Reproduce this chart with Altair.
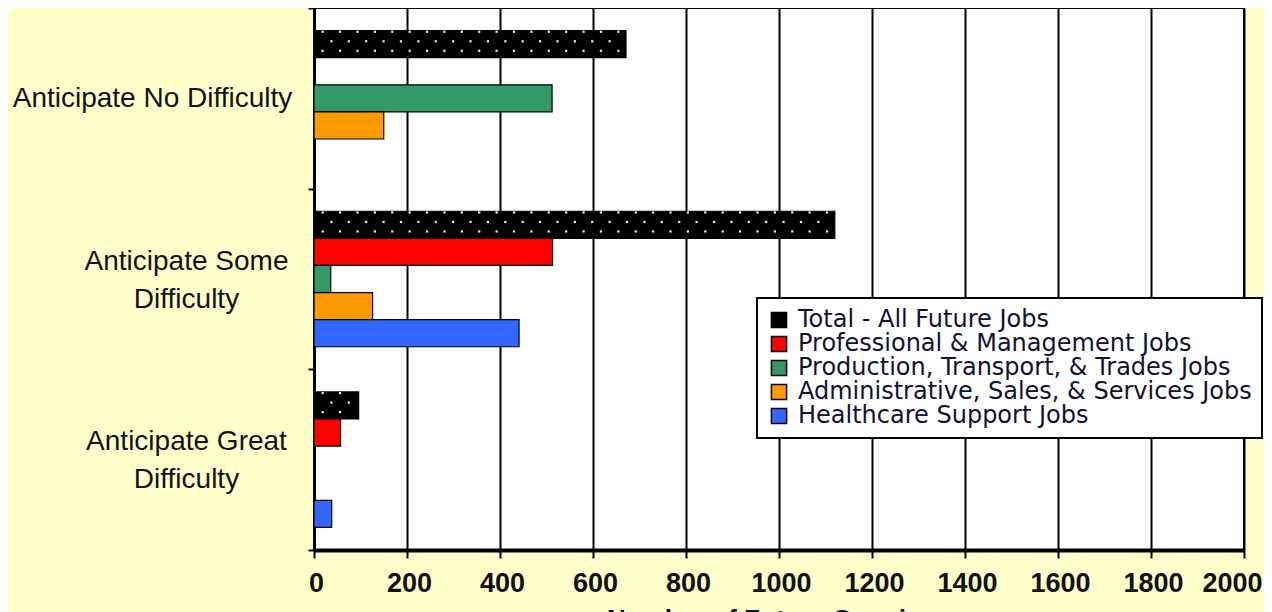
import altair as alt
import pandas as pd

categories = ["Anticipate No Difficulty", "Anticipate Some Difficulty", "Anticipate Great Difficulty"]
series = [
    "Total - All Future Jobs",
    "Professional & Management Jobs",
    "Production, Transport, & Trades Jobs",
    "Administrative, Sales, & Services Jobs",
    "Healthcare Support Jobs",
]
colors = ["#000000", "#FF0000", "#339966", "#FF9900", "#3366FF"]

total_jobs = [671, 1120, 96]
professional_jobs = [0, 513, 57]
production_jobs = [512, 36, 0]
administrative_jobs = [150, 126, 0]
healthcare_jobs = [0, 441, 38]

x_ticks = [0, 200, 400, 600, 800, 1000, 1200, 1400, 1600, 1800, 2000]

values = [total_jobs, professional_jobs, production_jobs, administrative_jobs, healthcare_jobs]
rows = []
for s, vals in zip(series, values):
    for c, v in zip(categories, vals):
        if v > 0:
            rows.append({"cat": c, "series": s, "value": v})
df = pd.DataFrame(rows)

# white dot texture for the "Total" bars (3 staggered rows)
sub_domain = ["pa", "pb"] + [f"s{i}" for i in range(15)] + ["pc", "pd"]
dot_rows = []
step_units = 37.4
for c, v in zip(categories, total_jobs):
    for r in range(3):
        start = 18.7 + (18.7 if r == 1 else 0)
        k = 0
        while start + k * step_units < v - 6:
            dot_rows.append({"cat": c, "sub": f"s{r}", "x": start + k * step_units})
            k += 1
dots = pd.DataFrame(dot_rows)

label_expr = (
    "datum.value == 'Anticipate Some Difficulty' ? ['Anticipate Some', 'Difficulty'] : "
    "datum.value == 'Anticipate Great Difficulty' ? ['Anticipate Great', 'Difficulty'] : datum.value"
)

single = "datum.value == 'Anticipate No Difficulty'"
last_tick = "datum.value == 2000"

y_enc = alt.Y(
    "cat:N",
    sort=categories,
    scale=alt.Scale(domain=categories, paddingInner=0, paddingOuter=0),
    axis=alt.Axis(
        title=None,
        labelExpr=label_expr,
        labelFont="Liberation Sans",
        labelFontSize=28,
        labelColor="#111111",
        labelLineHeight=38,
        labelAlign="center",
        labelPadding={"condition": {"test": single, "value": 156}, "value": 122},
        labelOffset={"condition": {"test": single, "value": 0}, "value": -18},
        labelLimit=400,
        tickBand="extent",
        tickSize=6,
        tickColor="black",
        tickWidth=2,
        domainColor="black",
        domainWidth=3,
        grid=False,
    ),
)

x_enc = alt.X(
    "value:Q",
    scale=alt.Scale(domain=[0, 2000], nice=False),
    axis=alt.Axis(
        values=x_ticks,
        format="d",
        title="Number of Future Openings",
        titleFont="Liberation Sans",
        titleFontSize=26,
        titleFontWeight="bold",
        titleColor="#111111",
        titlePadding=10,
        labelFont="Liberation Sans",
        labelFontSize=27,
        labelFontWeight="bold",
        labelColor="#111111",
        labelPadding=12,
        labelFlush=False,
        labelOverlap=False,
        labelAlign={"condition": {"test": last_tick, "value": "right"}, "value": "center"},
        labelOffset={"condition": {"test": last_tick, "value": 18}, "value": 2},
        tickSize=8,
        tickWidth=2,
        tickColor="black",
        domainColor="black",
        domainWidth=4,
        grid=True,
        gridColor="black",
        gridWidth=2,
        gridOpacity=1,
    ),
)

bars = alt.Chart(df).mark_bar(stroke="black", strokeWidth=1.2).encode(
    x=x_enc,
    y=y_enc,
    yOffset=alt.YOffset(
        "series:N",
        sort=series,
        scale=alt.Scale(domain=series, paddingInner=0, paddingOuter=0.833),
    ),
    color=alt.Color(
        "series:N",
        sort=series,
        scale=alt.Scale(domain=series, range=colors),
        legend=alt.Legend(
            title=None,
            orient="none",
            legendX=443,
            legendY=290,
            labelFont="DejaVu Sans",
            labelFontSize=24,
            labelColor="#111133",
            labelLimit=600,
            symbolType="square",
            symbolSize=230,
            symbolStrokeColor="black",
            symbolStrokeWidth=1.5,
            symbolOpacity=1,
            rowPadding=0,
            labelOffset=7,
            padding=10,
            strokeColor="black",
            fillColor="white",
        ),
    ),
)

dot_layer = alt.Chart(dots).mark_square(size=5, color="#e8e8e8", opacity=1).encode(
    x=alt.X("x:Q", scale=alt.Scale(domain=[0, 2000], nice=False)),
    y=alt.Y("cat:N", sort=categories, scale=alt.Scale(domain=categories, paddingInner=0, paddingOuter=0)),
    yOffset=alt.YOffset("sub:N", sort=sub_domain, scale=alt.Scale(domain=sub_domain, paddingInner=0, paddingOuter=0.5)),
)

chart = (
    alt.layer(bars, dot_layer)
    .resolve_scale(yOffset="independent")
    .properties(
        width=930,
        height=542,
        background="#FFFFCC",
        padding={"left": 306, "top": 0, "right": 20, "bottom": 80},
        autosize=alt.AutoSizeParams(type="none"),
    )
    .configure_view(fill="white", stroke="black", strokeWidth=2)
    .configure_legend(strokeWidth=2)
)

chart.save("out.html", embed_options={"renderer": "svg", "actions": False})
